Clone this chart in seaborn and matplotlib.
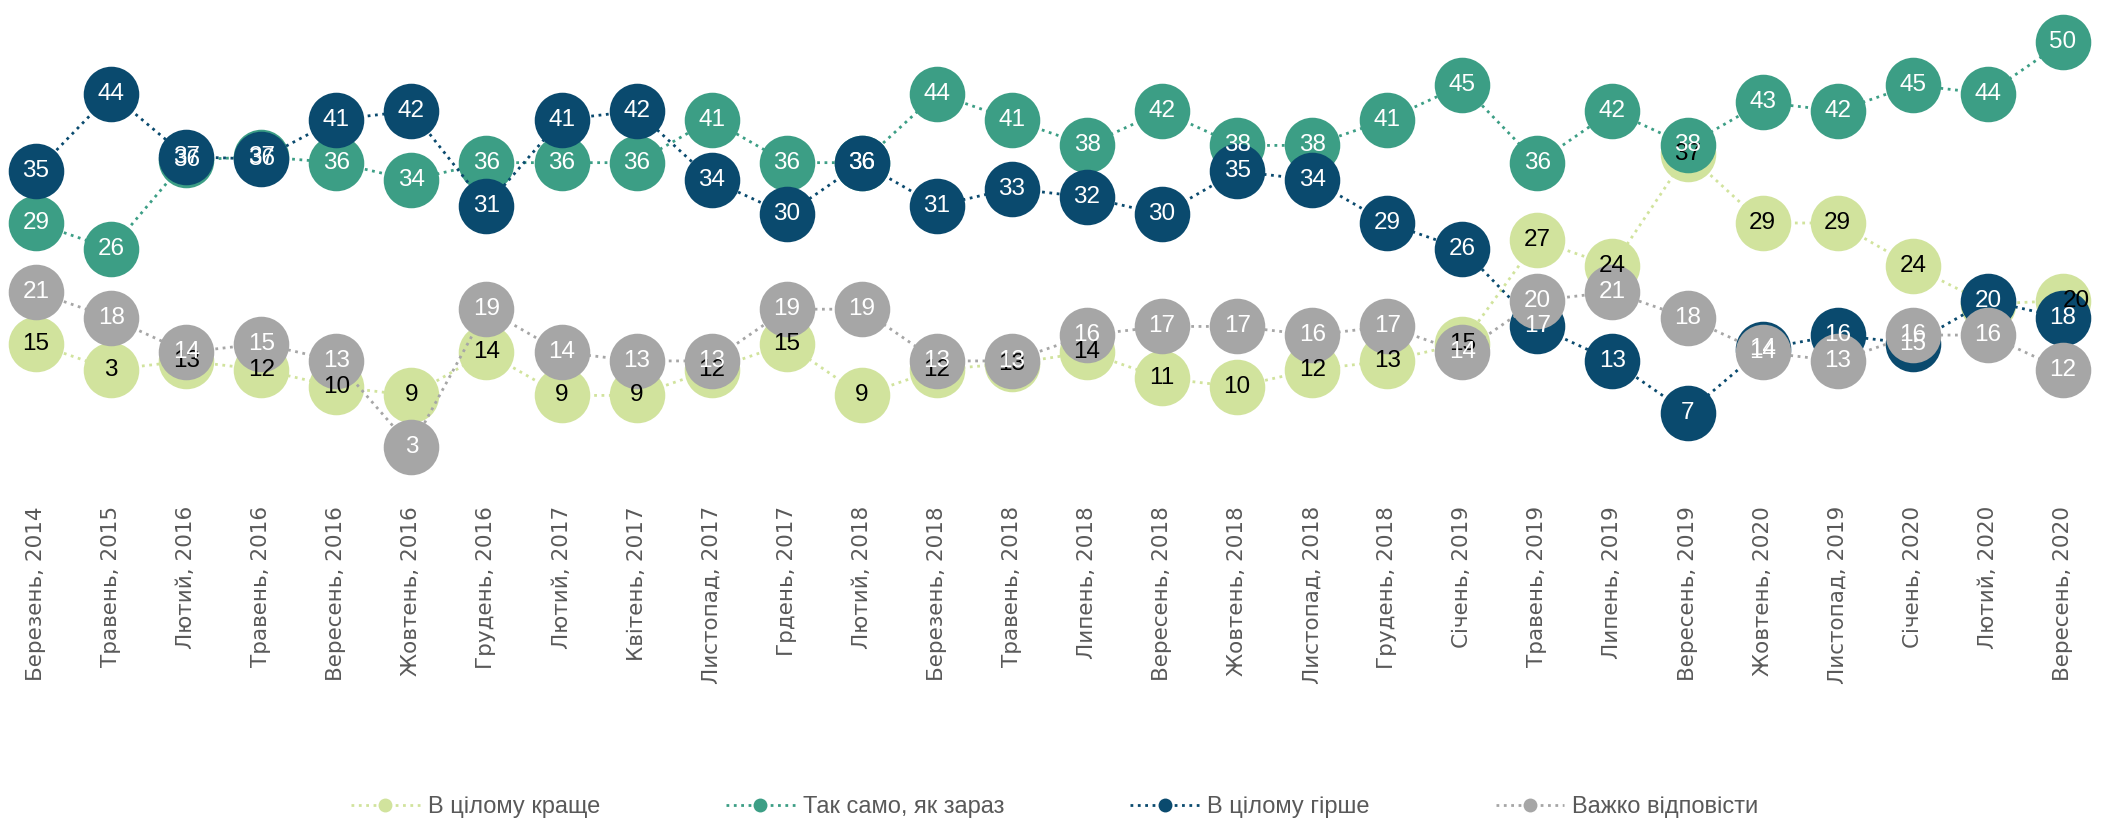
import pandas as pd
import matplotlib
matplotlib.use("Agg")
import matplotlib.pyplot as plt
from matplotlib.lines import Line2D
import seaborn as sns

# categories along the x axis (survey waves)
waves = [
    "Березень, 2014", "Травень, 2015", "Лютий, 2016", "Травень, 2016",
    "Вересень, 2016", "Жовтень, 2016", "Грудень, 2016", "Лютий, 2017",
    "Квітень, 2017", "Листопад, 2017", "Грдень, 2017", "Лютий, 2018",
    "Березень, 2018", "Травень, 2018", "Липень, 2018", "Вересень, 2018",
    "Жовтень, 2018", "Листопад, 2018", "Грудень, 2018", "Січень, 2019",
    "Травень, 2019", "Липень, 2019", "Вересень, 2019", "Жовтень, 2020",
    "Листопад, 2019", "Січень, 2020", "Лютий, 2020", "Вересень, 2020",
]

series_names = ["В цілому краще", "Так само, як зараз", "В цілому гірше", "Важко відповісти"]

better = [15, 12, 13, 12, 10, 9, 14, 9, 9, 12, 15, 9, 12, 12.7, 14, 11, 10, 12, 13, 15,
          27, 24, 37, 29, 29, 24, 19.6, 20]
same = [29, 26, 36.3, 36.7, 36, 34, 36, 36, 36, 41, 36, 36, 44, 41, 38, 42, 38, 38, 41, 45,
        36, 42, 38, 43, 42, 45, 44, 50]
worse = [35, 44, 36.7, 36.4, 41, 42, 31, 41, 42, 34, 30, 36, 31, 33, 32, 30, 35, 34, 29, 26,
         17, 13, 7, 14.4, 16, 15, 20, 18]
hard = [21, 18, 14, 15, 13, 3, 19, 14, 13, 13, 19, 19, 13, 13, 16, 17, 17, 16, 17, 14,
        20, 21, 18, 14, 13, 16, 16, 12]

# label text that differs from the rounded value in the source chart
better_text = {1: "3", 26: ""}

colors = ["#D1E39D", "#3C9E85", "#0A4A6E", "#A6A6A6"]
text_colors = ["black", "white", "white", "white"]

rows = []
for name, vals in zip(series_names, [better, same, worse, hard]):
    for i, v in enumerate(vals):
        rows.append({"idx": i, "value": v, "series": name})
df = pd.DataFrame(rows)

sns.set_style("white")
fig = plt.figure(figsize=(21.01, 8.22), dpi=100)
ax = fig.add_axes([0.00286, 0.4036, 0.9933, 0.5873])

sns.lineplot(data=df, x="idx", y="value", hue="series", hue_order=series_names,
             palette=colors, marker="o", markersize=40, markeredgewidth=0,
             linestyle=":", linewidth=2, legend=False, ax=ax, clip_on=False)

for k, (name, vals) in enumerate(zip(series_names, [better, same, worse, hard])):
    for i, v in enumerate(vals):
        txt = f"{v:.0f}"
        dx = 0
        if k == 0:
            txt = better_text.get(i, txt)
            if i == 27:
                dx = 10
        if not txt:
            continue
        ax.annotate(txt, (i, v), xytext=(dx, 0), textcoords="offset points",
                    ha="center", va="center", fontsize=17.5, color=text_colors[k],
                    family="Liberation Sans", zorder=10, annotation_clip=False)

ax.set_xlim(-0.4, 27.4)
ax.set_ylim(-2, 54)
ax.set_xticks(range(len(waves)))
ax.set_xticklabels(waves, rotation=90, fontsize=15.5, color="#595959", family="DejaVu Sans")
ax.tick_params(axis="x", length=0, pad=11.5)
ax.set_yticks([])
ax.set_xlabel("")
ax.set_ylabel("")
for s in ax.spines.values():
    s.set_visible(False)

handles = [Line2D([0], [0], color=c, linestyle=":", linewidth=2, marker="o",
                  markersize=10, markeredgewidth=0) for c in colors]
fig.legend(handles, series_names, loc="center", bbox_to_anchor=(0.502, 1 - 807 / 822),
           ncol=4, frameon=False, handlelength=2.9, handletextpad=0.34,
           columnspacing=5.35, prop={"family": "Liberation Sans", "size": 17},
           labelcolor="#595959")

fig.savefig("out.png", dpi=100, facecolor="white")
